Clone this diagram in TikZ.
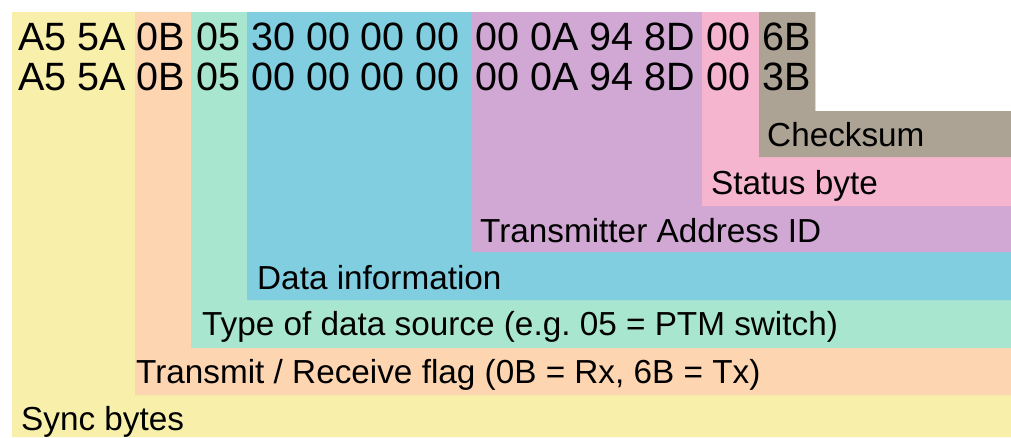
\documentclass[tikz,border=0pt]{standalone}
\usepackage{fontspec}
\setmainfont{Liberation Sans}
\frenchspacing
\definecolor{syncc}{HTML}{F8F0AA}
\definecolor{flagc}{HTML}{FDD5B1}
\definecolor{typec}{HTML}{A8E6D0}
\definecolor{datac}{HTML}{80CEE0}
\definecolor{addrc}{HTML}{D1A7D3}
\definecolor{statc}{HTML}{F6B5CE}
\definecolor{chkc}{HTML}{ADA394}
\begin{document}
\begin{tikzpicture}[x=1pt,y=-1pt]
    \tikzstyle{hex}=[anchor=base west,inner sep=0pt,font=\fontsize{39.5}{40}\selectfont]
    \tikzstyle{lbl}=[anchor=base west,inner sep=0pt,font=\fontsize{33.3}{35}\selectfont]
    \useasboundingbox (0,0) rectangle (1011,437);
    % nested fields, outermost first
    \fill[syncc] (12,12) -- (815,12) -- (815,111) -- (1011,111) -- (1011,437) -- (12,437) -- cycle;
    \fill[flagc] (135,12) -- (815,12) -- (815,111) -- (1011,111) -- (1011,395) -- (135,395) -- cycle;
    \fill[typec] (191,12) -- (815,12) -- (815,111) -- (1011,111) -- (1011,348) -- (191,348) -- cycle;
    \fill[datac] (247,12) -- (815,12) -- (815,111) -- (1011,111) -- (1011,300) -- (247,300) -- cycle;
    \fill[addrc] (471,12) -- (815,12) -- (815,111) -- (1011,111) -- (1011,252) -- (471,252) -- cycle;
    \fill[statc] (702,12) -- (815,12) -- (815,111) -- (1011,111) -- (1011,206) -- (702,206) -- cycle;
    \fill[chkc] (759,12) -- (815,12) -- (815,111) -- (1011,111) -- (1011,157) -- (759,157) -- cycle;
    % telegram bytes
    \node[hex] (s1) at (18,50) {A5 5A};
    \node[hex] (f1) at (136,50) {0B};
    \node[hex] (t1) at (196,50) {05};
    \node[hex] (d1) at (251,50) {30 00 00 00};
    \node[hex] (a1) at (475,50) {00 0A 94 8D};
    \node[hex] (p1) at (706,50) {00};
    \node[hex] (c1) at (762,50) {6B};
    \node[hex] (s2) at (18,90) {A5 5A};
    \node[hex] (f2) at (136,90) {0B};
    \node[hex] (t2) at (196,90) {05};
    \node[hex] (d2) at (251,90) {00 00 00 00};
    \node[hex] (a2) at (475,90) {00 0A 94 8D};
    \node[hex] (p2) at (706,90) {00};
    \node[hex] (c2) at (762,90) {3B};
    % field names
    \node[lbl] (chk) at (767,146) {Checksum};
    \node[lbl] (stat) at (711,194) {Status byte};
    \node[lbl] (addr) at (480,242) {Transmitter Address ID};
    \node[lbl] (data) at (257,289) {Data information};
    \node[lbl] (type) at (202,335) {Type of data source (e.g. 05 = PTM switch)};
    \node[lbl] (flag) at (136,383) {Transmit / Receive flag (0B = Rx, 6B = Tx)};
    \node[lbl] (sync) at (21,430) {Sync bytes};
\end{tikzpicture}
\end{document}
